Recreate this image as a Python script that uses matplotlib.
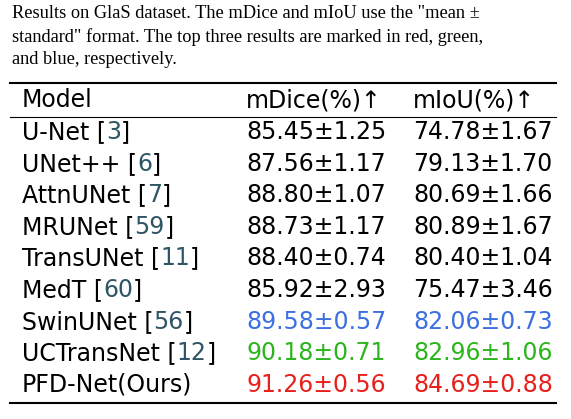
import matplotlib
matplotlib.use("Agg")
import matplotlib.pyplot as plt

W, H = 571, 419
SANS = ["DejaVu Sans"]
SERIF = ["Liberation Serif", "DejaVu Serif"]
INK = "#000000"
CITE = "#2e5566"
RED, GREEN, BLUE = "#e8201c", "#2cb51c", "#3d6fe0"

caption = [
    'Results on GlaS dataset. The mDice and mIoU use the "mean \u00b1',
    'standard" format. The top three results are marked in red, green,',
    'and blue, respectively.',
]
headers = ["Model", "mDice(%)\u2191", "mIoU(%)\u2191"]
models = ["U-Net", "UNet++", "AttnUNet", "MRUNet", "TransUNet",
          "MedT", "SwinUNet", "UCTransNet", "PFD-Net(Ours)"]
cites = ["3", "6", "7", "59", "11", "60", "56", "12", None]
mdice = ["85.45\u00b11.25", "87.56\u00b11.17", "88.80\u00b11.07", "88.73\u00b11.17",
         "88.40\u00b10.74", "85.92\u00b12.93", "89.58\u00b10.57", "90.18\u00b10.71",
         "91.26\u00b10.56"]
miou = ["74.78\u00b11.67", "79.13\u00b11.70", "80.69\u00b11.66", "80.89\u00b11.67",
        "80.40\u00b11.04", "75.47\u00b13.46", "82.06\u00b10.73", "82.96\u00b11.06",
        "84.69\u00b10.88"]
row_colors = [INK] * 6 + [BLUE, GREEN, RED]

fig = plt.figure(figsize=(W / 100, H / 100), dpi=100)
fig.patch.set_facecolor("white")
ax = fig.add_axes([0, 0, 1, 1])
ax.set_xlim(0, W)
ax.set_ylim(H, 0)
ax.axis("off")

for i, line in enumerate(caption):
    ax.text(12, 14 + i * 23, line, family=SERIF, fontsize=13.2, va="center", ha="left")

ax.plot([10, 556], [83, 83], color=INK, lw=1.5)
ax.plot([10, 556], [117, 117], color=INK, lw=0.8)
ax.plot([10, 556], [403, 403], color=INK, lw=1.5)

FS = 17
x_model, x_dice, x_iou = 22, 246, 413
ax.text(x_model, 100, headers[0], family=SANS, fontsize=FS, va="center")
ax.text(x_dice, 100, headers[1], family=SANS, fontsize=FS, va="center")
ax.text(x_iou, 100, headers[2], family=SANS, fontsize=FS, va="center")

fig.canvas.draw()
r = fig.canvas.get_renderer()
inv = ax.transData.inverted()


def right_edge(t):
    bb = t.get_window_extent(renderer=r)
    return inv.transform((bb.x1, bb.y0))[0]


y0, dy = 132, 31.6
for i, name in enumerate(models):
    y = y0 + i * dy
    if cites[i] is None:
        ax.text(x_model, y, name, family=SANS, fontsize=FS, va="center")
    else:
        t = ax.text(x_model, y, name + " [", family=SANS, fontsize=FS, va="center")
        x = right_edge(t)
        t2 = ax.text(x, y, cites[i], family=SANS, fontsize=FS, va="center", color=CITE)
        x = right_edge(t2)
        ax.text(x, y, "]", family=SANS, fontsize=FS, va="center")
    ax.text(x_dice, y, mdice[i], family=SANS, fontsize=FS, va="center", color=row_colors[i])
    ax.text(x_iou, y, miou[i], family=SANS, fontsize=FS, va="center", color=row_colors[i])

fig.savefig("out.png", dpi=100)
